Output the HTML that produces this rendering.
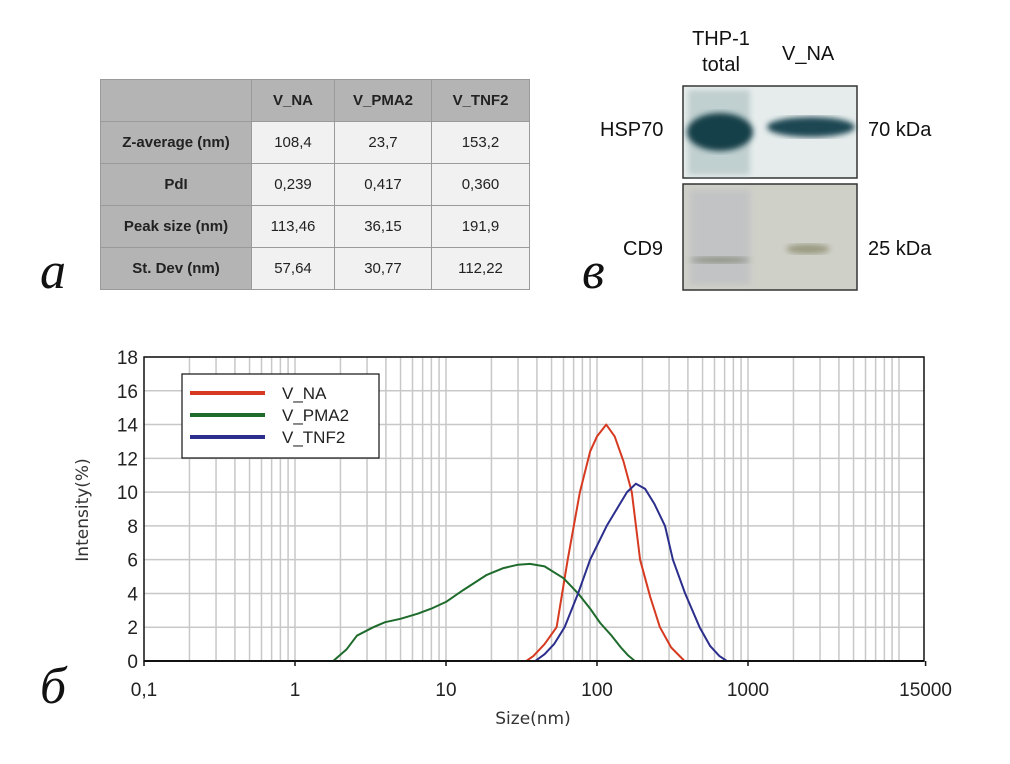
<!DOCTYPE html>
<html><head><meta charset="utf-8"><style>
body{margin:0;width:1010px;height:764px;background:#fff;position:relative;overflow:hidden;font-family:"Liberation Sans",sans-serif}
.abs{position:absolute}
table{border-collapse:collapse;position:absolute;left:100px;top:79px;font-size:15px}
td{border:1px solid #9a9a9a;text-align:center;padding:0;height:41px;color:#222}
td.h{background:#b4b4b4;font-weight:bold}
td.c{background:#f1f1f1}
.let{font-family:"Liberation Serif",serif;font-style:italic;font-size:52px;color:#111}
.bl{font-size:20px;color:#111}
</style></head><body>
<div class="abs let" style="left:40px;top:242px">а</div>
<div class="abs let" style="left:40px;top:657px">б</div>
<div class="abs let" style="left:582px;top:242px">в</div>

<table>
<tr><td class="h" style="width:150px"></td><td class="h" style="width:82px">V_NA</td><td class="h" style="width:96px">V_PMA2</td><td class="h" style="width:97px">V_TNF2</td></tr>
<tr><td class="h">Z-average (nm)</td><td class="c">108,4</td><td class="c">23,7</td><td class="c">153,2</td></tr>
<tr><td class="h">PdI</td><td class="c">0,239</td><td class="c">0,417</td><td class="c">0,360</td></tr>
<tr><td class="h">Peak size (nm)</td><td class="c">113,46</td><td class="c">36,15</td><td class="c">191,9</td></tr>
<tr><td class="h">St. Dev (nm)</td><td class="c">57,64</td><td class="c">30,77</td><td class="c">112,22</td></tr>
</table>

<div class="abs bl" style="left:686px;top:26px;text-align:center;width:70px;line-height:26px">THP-1<br>total</div>
<div class="abs bl" style="left:782px;top:43px">V_NA</div>
<div class="abs bl" style="left:600px;top:119px">HSP70</div>
<div class="abs bl" style="left:623px;top:238px">CD9</div>
<div class="abs bl" style="left:868px;top:119px">70 kDa</div>
<div class="abs bl" style="left:868px;top:238px">25 kDa</div>
<svg class="abs" style="left:0;top:0" width="1010" height="764">
<defs><filter id="bl"><feGaussianBlur stdDeviation="3"/></filter></defs>
<rect x="683" y="86" width="174" height="92" fill="#e6ecec" stroke="#333" stroke-width="1.5"/>
<rect x="688" y="90" width="62" height="85" fill="#a8bcbc" filter="url(#bl)" opacity="0.6"/>
<ellipse cx="720" cy="132" rx="33" ry="19" fill="#123f4a" filter="url(#bl)"/>
<ellipse cx="811" cy="127" rx="44" ry="10" fill="#1a4652" filter="url(#bl)"/>
<rect x="683" y="184" width="174" height="106" fill="#cfd0c8" stroke="#333" stroke-width="1.5"/>
<rect x="690" y="190" width="60" height="95" fill="#b9bcc2" filter="url(#bl)" opacity="0.6"/>
<ellipse cx="720" cy="260" rx="30" ry="3" fill="#8a8e80" filter="url(#bl)"/>
<ellipse cx="808" cy="249" rx="22" ry="5" fill="#9a9a80" filter="url(#bl)"/>
</svg>

<svg id="chart" class="abs" style="left:0;top:0" width="1010" height="764"></svg>
<script>
const yTicks=[0,2,4,6,8,10,12,14,16,18];
const xTickVals=[0.1,1,10,100,1000,15000];
const xTickLabels=["0,1","1","10","100","1000","15000"];
const seriesNames=["V_NA","V_PMA2","V_TNF2"];
const seriesColors=["#d63a20","#1e6b2c","#2b2e8c"];
const naX=[0.3,30,34,38,45,54,64,77,90,100,115,131,150,170,193,225,261,310,380,10000];
const naY=[0,0,0,0.3,1.0,2,6,10,12.4,13.3,14,13.3,11.8,10,6,3.8,2,0.8,0,0];
const pmaX=[0.3,1.79,2.2,2.57,3.3,3.95,5,6.5,8,10,13,18.6,24,30,36,45,60,75,90,105,125,144,160,178,10000];
const pmaY=[0,0,0.7,1.5,2,2.3,2.5,2.8,3.1,3.5,4.2,5.1,5.5,5.7,5.75,5.6,4.9,4.0,3.1,2.25,1.5,0.8,0.35,0,0];
const tnfX=[0.3,39,45,52,61,75,90,116,158,181,208,240,282,318,383,478,560,646,724,10000];
const tnfY=[0,0,0.4,1.0,2,4,6,8,10,10.5,10.2,9.3,8,6,4,2,0.9,0.3,0,0];
const xs=[naX,pmaX,tnfX], ys=[naY,pmaY,tnfY];
const L=144,R=924,T=357,B=661,DEC=151;
const X=v=>L+(Math.log10(v)+1)*DEC;
const Y=v=>B-(v/18)*(B-T);
const NS="http://www.w3.org/2000/svg";
const svg=document.getElementById('chart');
function mk(tag,attrs,parent){const e=document.createElementNS(NS,tag);for(const k in attrs)e.setAttribute(k,attrs[k]);(parent||svg).appendChild(e);return e;}
for(let d=-1;d<=4;d++){for(let m=1;m<=9;m++){const v=m*Math.pow(10,d);if(v<0.1||v>10000)continue;if(v===0.1)continue;
const g=mk('line',{x1:X(v),x2:X(v),y1:T,y2:B,stroke:'#c8c8c8','stroke-width':1.5});

}}
yTicks.forEach(t=>{
const g=mk('line',{x1:L,x2:R,y1:Y(t),y2:Y(t),stroke:'#c8c8c8','stroke-width':1.5});


const tx=mk('text',{x:L-6,y:Y(t)+7,'text-anchor':'end','font-size':19,fill:'#222','font-family':'Liberation Sans, sans-serif'});
tx.textContent=t;


});
xTickVals.forEach((v,i)=>{
const tx=mk('text',{x:X(v),y:B+35,'text-anchor':'middle','font-size':19,fill:'#222','font-family':'Liberation Sans, sans-serif'});
tx.textContent=xTickLabels[i];


const tk=mk('line',{x1:X(v),x2:X(v),y1:B,y2:B+5,stroke:'#111','stroke-width':1.5});


});
const fr=mk('rect',{x:L,y:T,width:R-L,height:B-T,fill:'none',stroke:'#111','stroke-width':1.5});


for(let s=0;s<3;s++){
const p=xs[s].map((x,i)=>X(x).toFixed(1)+','+Y(ys[s][i]).toFixed(1)).join(' ');
const pl=mk('polyline',{points:p,fill:'none',stroke:seriesColors[s],'stroke-width':2,'stroke-linejoin':'round'});


}
const ax=mk('line',{x1:L,x2:R,y1:B,y2:B,stroke:'#111','stroke-width':2});


const lg=mk('g',{});


mk('rect',{x:182,y:374,width:197,height:84,fill:'#fff',stroke:'#111','stroke-width':1.2},lg);
seriesNames.forEach((n,i)=>{
const yy=393+i*22;
const l=mk('line',{x1:190,x2:265,y1:yy,y2:yy,stroke:seriesColors[i],'stroke-width':4},lg);


const t=mk('text',{x:282,y:yy+6,'font-size':17,fill:'#222','font-family':'Liberation Sans, sans-serif'},lg);
t.textContent=n;


});
const yt=mk('text',{x:0,y:0,'font-size':17,fill:'#333','text-anchor':'middle','font-family':'DejaVu Sans, sans-serif',transform:'translate(88,510) rotate(-90)'});
yt.textContent='Intensity(%)';


const xt=mk('text',{x:533,y:724,'font-size':17,fill:'#333','text-anchor':'middle','font-family':'DejaVu Sans, sans-serif'});
xt.textContent='Size(nm)';


</script>
</body></html>
